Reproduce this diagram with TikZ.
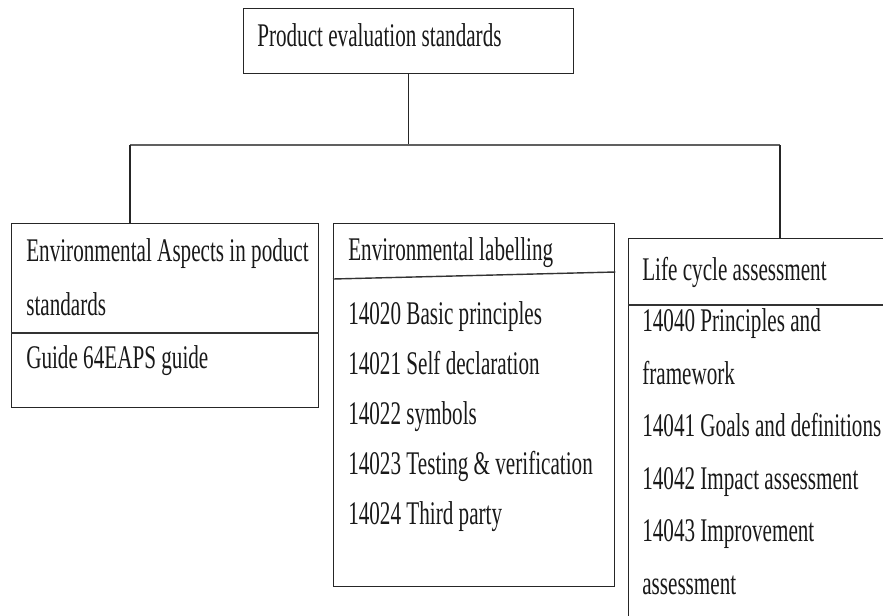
\documentclass[tikz,border=0pt]{standalone}
\usepackage{fontspec}
\setmainfont{Liberation Serif}[FakeStretch=0.64]
\usepackage{tikz}
\usetikzlibrary{positioning,calc}
\tikzset{
  stdbox/.style={rectangle,draw=black!85,line width=1pt,anchor=north west,inner sep=0pt},
  branch/.style={line width=.8pt,black!85},
  bar/.style={line width=1.5pt,gray!75!black},
  sep/.style={line width=1pt,black!80},
  txt/.style={font=\fontsize{23.5}{28}\selectfont,anchor=base west,inner sep=0pt,text=black!90}
}
\begin{document}
\begin{tikzpicture}
  \useasboundingbox (0,0) rectangle (22.075,-15.375);
  \clip (0,0) rectangle (22.075,-15.375);
  % boxes
  \node[stdbox,minimum width=8.25cm,minimum height=1.625cm] (top) at (6.075,-0.2) {};
  \node[stdbox,minimum width=7.675cm,minimum height=4.6cm] (lbox) at (0.275,-5.575) {};
  \node[stdbox,minimum width=7.025cm,minimum height=9.075cm] (mbox) at (8.325,-5.575) {};
  \node[stdbox,minimum width=7cm,minimum height=10cm] (rbox) at (15.7,-5.95) {};
  % separators
  \draw[sep] (lbox.west |- 0,-8.325) -- (lbox.east |- 0,-8.325);
  \draw[sep] (mbox.west |- 0,-6.975) -- (mbox.east |- 0,-6.8);
  \draw[sep] (rbox.west |- 0,-7.625) -- (22.2,-7.625);
  % tree
  \coordinate (jl) at (3.25,-3.625);
  \coordinate (jr) at (19.5,-3.625);
  \draw[branch] (top.south) -- (top.south |- jl);
  \draw[bar] (jl) -- (jr);
  \draw[branch] (jl) -- (jl |- lbox.north);
  \draw[branch] (jr) -- (jr |- rbox.north);
  % texts
  \node[txt] (ttop) at (6.425,-1.15) {Product evaluation standards};
  \node[txt] (l1) at (0.65,-6.525) {Environmental Aspects in poduct};
  \node[txt] (l2) at (0.65,-7.875) {standards};
  \node[txt] (l3) at (0.65,-9.2) {Guide 64EAPS guide};
  \node[txt] (m0) at (8.7,-6.5) {Environmental labelling};
  \node[txt] (m1) at (8.7,-8.1) {14020 Basic principles};
  \node[txt] (m2) at (8.7,-9.35) {14021 Self declaration};
  \node[txt] (m3) at (8.7,-10.6) {14022 symbols};
  \node[txt] (m4) at (8.7,-11.85) {14023 Testing \& verification};
  \node[txt] (m5) at (8.7,-13.1) {14024 Third party};
  \node[txt] (r0) at (16.05,-7.0) {Life cycle assessment};
  \node[txt] (r1) at (16.05,-8.275) {14040 Principles and};
  \node[txt] (r2) at (16.05,-9.6) {framework};
  \node[txt] (r3) at (16.05,-10.9) {14041 Goals and definitions};
  \node[txt] (r4) at (16.05,-12.225) {14042 Impact assessment};
  \node[txt] (r5) at (16.05,-13.525) {14043 Improvement};
  \node[txt] (r6) at (16.05,-14.85) {assessment};
\end{tikzpicture}
\end{document}
